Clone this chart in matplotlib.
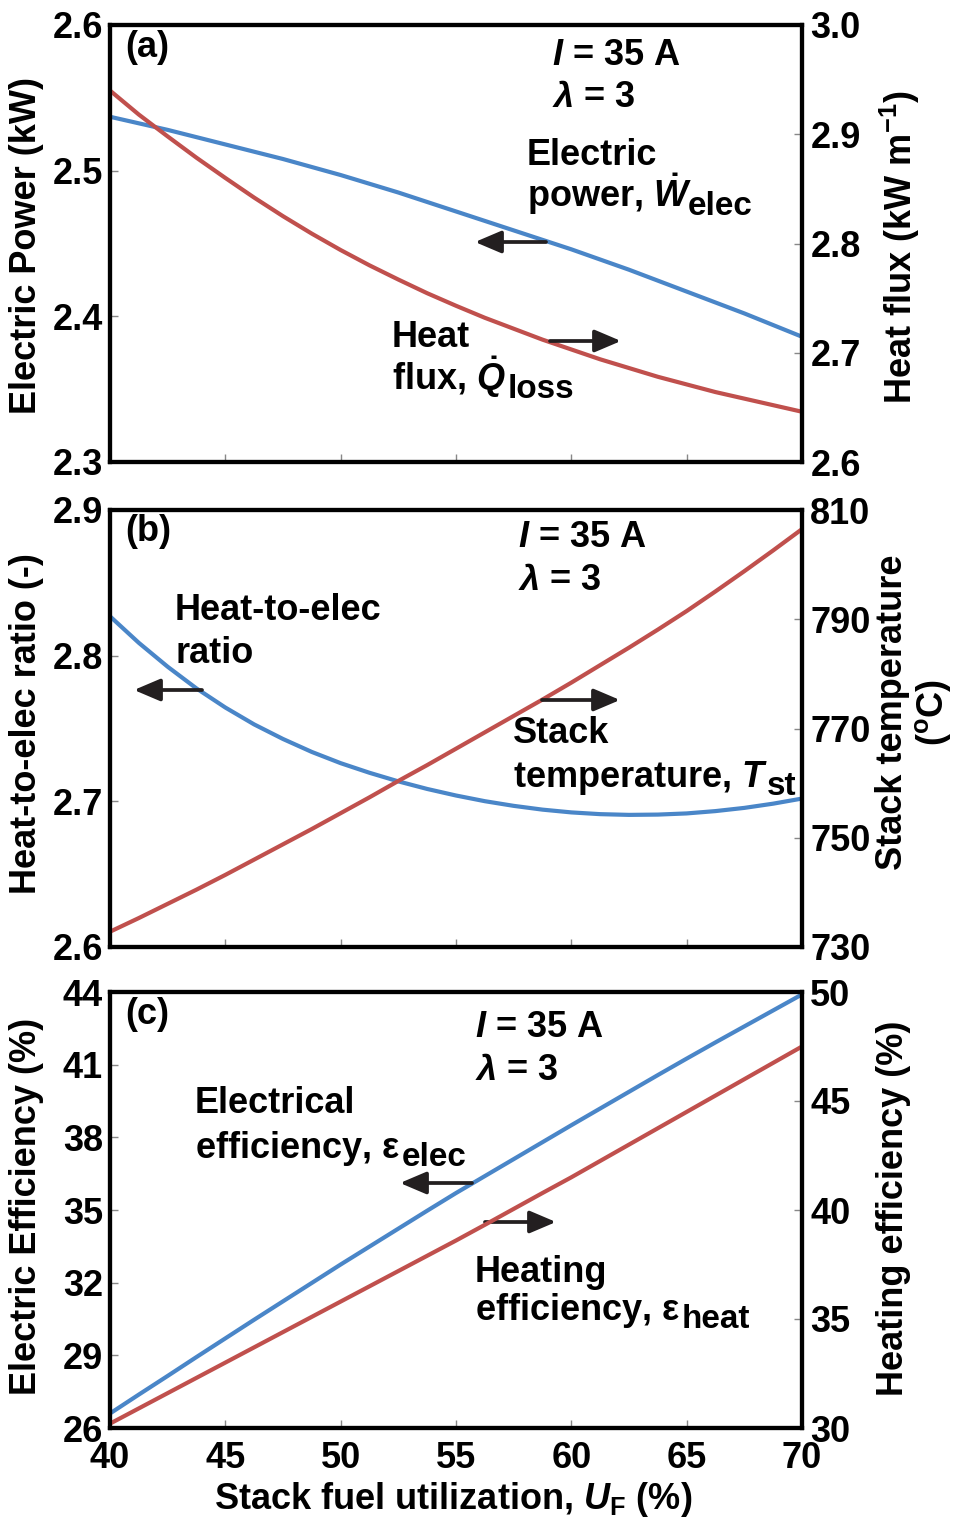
import matplotlib
matplotlib.use('Agg')
import matplotlib.pyplot as plt
from matplotlib.ticker import FormatStrFormatter

# ---------------- data ----------------
uf = [40, 41.25, 42.5, 43.75, 45, 46.25, 47.5, 48.75, 50, 51.25, 52.5, 53.75, 55,
      56.25, 57.5, 58.75, 60, 61.25, 62.5, 63.75, 65, 66.25, 67.5, 68.75, 70]
# panel (a)
power_kw = [2.537, 2.5325, 2.528, 2.523, 2.518, 2.513, 2.508, 2.5025, 2.497, 2.491,
            2.485, 2.4785, 2.472, 2.4655, 2.459, 2.4525, 2.446, 2.439, 2.432, 2.4245,
            2.417, 2.4095, 2.402, 2.394, 2.386]
heat_flux = [2.940, 2.918, 2.898, 2.8785, 2.860, 2.842, 2.825, 2.809, 2.794, 2.780,
             2.767, 2.7545, 2.743, 2.732, 2.722, 2.712, 2.703, 2.694, 2.686, 2.678,
             2.671, 2.664, 2.658, 2.652, 2.646]
# panel (b)
heat_elec_ratio = [2.8270, 2.8088, 2.7924, 2.7775, 2.7644, 2.7528, 2.7428, 2.7339,
                   2.7262, 2.7196, 2.7137, 2.7085, 2.7040, 2.7001, 2.6969, 2.6943,
                   2.6924, 2.6912, 2.6907, 2.6909, 2.6917, 2.6933, 2.6955, 2.6984,
                   2.7019]
stack_temp = [732.8, 735.3, 737.9, 740.5, 743.2, 746.0, 748.8, 751.6, 754.5, 757.4,
              760.4, 763.3, 766.3, 769.3, 772.3, 775.3, 778.4, 781.6, 784.8, 788.1,
              791.5, 795.1, 798.8, 802.6, 806.5]
# panel (c)
eff_elec = [26.6, 27.38, 28.15, 28.93, 29.7, 30.47, 31.23, 31.99, 32.75, 33.49, 34.23,
            34.97, 35.7, 36.4, 37.1, 37.8, 38.5, 39.19, 39.88, 40.57, 41.25, 41.92,
            42.58, 43.24, 43.9]
eff_heat = [30.2, 30.9, 31.6, 32.3, 33.0, 33.7, 34.4, 35.1, 35.8, 36.5, 37.2, 37.9,
            38.6, 39.32, 40.05, 40.78, 41.5, 42.25, 43.0, 43.75, 44.5, 45.25, 46.0,
            46.75, 47.5]

xticks = [40, 45, 50, 55, 60, 65, 70]
yticks_a_left = [2.3, 2.4, 2.5, 2.6]
yticks_a_right = [2.6, 2.7, 2.8, 2.9, 3.0]
yticks_b_left = [2.6, 2.7, 2.8, 2.9]
yticks_b_right = [730, 750, 770, 790, 810]
yticks_c_left = [26, 29, 32, 35, 38, 41, 44]
yticks_c_right = [30, 35, 40, 45, 50]

# ---------------- style ----------------
plt.rcParams.update({
    'font.family': ['Liberation Sans', 'DejaVu Sans'],
    'font.weight': 'bold',
    'mathtext.fontset': 'custom',
    'mathtext.rm': 'Liberation Sans:bold',
    'mathtext.it': 'Liberation Sans:italic:bold',
    'mathtext.bf': 'Liberation Sans:bold',
    'mathtext.sf': 'Liberation Sans:bold',
})

BLUE = '#4a86c8'
RED = '#c0504d'
ARROW = '#231f20'
FS = 26
LW = 3.0

W, H = 955, 1519
fig = plt.figure(figsize=(W / 100, H / 100), dpi=100)


def fx(px):
    return px / W


def fy(py):
    return 1 - py / H


L, R = 110, 802
panels = [(25, 462), (510, 947), (992, 1428)]


def make_axes(top, bot):
    return fig.add_axes([fx(L), fy(bot), (R - L) / W, (bot - top) / H])


def style(ax, ax2, show_xlabels):
    for a in (ax, ax2):
        for s in a.spines.values():
            s.set_linewidth(LW)
            s.set_color('black')
    ax.tick_params(axis='y', which='both', direction='in', length=6, width=1,
                   color='#888888', left=True, right=False, labelsize=FS, pad=5)
    ax.tick_params(axis='x', which='both', direction='in', length=6, width=1,
                   color='#888888', bottom=True, top=False, labelsize=FS, pad=9,
                   labelbottom=show_xlabels)
    ax2.tick_params(axis='y', which='both', direction='in', length=6, width=1,
                    color='#888888', left=False, right=True, labelsize=FS, pad=6)
    ax.set_xlim(40, 70)
    ax.set_xticks(xticks)
    for lab in ax.get_xticklabels() + ax.get_yticklabels() + ax2.get_yticklabels():
        lab.set_fontweight('bold')


axes = []
for (top, bot) in panels:
    ax = make_axes(top, bot)
    ax2 = ax.twinx()
    axes.append((ax, ax2))

# panel (a)
ax, ax2 = axes[0]
ax.plot(uf, power_kw, color=BLUE, lw=LW, solid_capstyle='butt')
ax2.plot(uf, heat_flux, color=RED, lw=LW, solid_capstyle='butt')
ax.set_ylim(2.3, 2.6)
ax.set_yticks(yticks_a_left)
ax2.set_ylim(2.6, 3.0)
ax2.set_yticks(yticks_a_right)
ax.yaxis.set_major_formatter(FormatStrFormatter('%.1f'))
ax2.yaxis.set_major_formatter(FormatStrFormatter('%.1f'))
style(ax, ax2, False)

# panel (b)
ax, ax2 = axes[1]
ax.plot(uf, heat_elec_ratio, color=BLUE, lw=LW, solid_capstyle='butt')
ax2.plot(uf, stack_temp, color=RED, lw=LW, solid_capstyle='butt')
ax.set_ylim(2.6, 2.9)
ax.set_yticks(yticks_b_left)
ax2.set_ylim(730, 810)
ax2.set_yticks(yticks_b_right)
ax.yaxis.set_major_formatter(FormatStrFormatter('%.1f'))
style(ax, ax2, False)

# panel (c)
ax, ax2 = axes[2]
ax.plot(uf, eff_elec, color=BLUE, lw=LW, solid_capstyle='butt')
ax2.plot(uf, eff_heat, color=RED, lw=LW, solid_capstyle='butt')
ax.set_ylim(26, 44)
ax.set_yticks(yticks_c_left)
ax2.set_ylim(30, 50)
ax2.set_yticks(yticks_c_right)
style(ax, ax2, True)

host = axes[2][0]


# ---------------- texts ----------------
def ftext(x, y, s, **kw):
    kw.setdefault('va', 'baseline')
    kw.setdefault('ha', 'left')
    return fig.text(fx(x), fy(y), s, fontsize=FS, fontweight='bold', **kw)


def subscript(txt, s, y, dx=1.0):
    host.annotate(s, xy=(1.0, fy(y)), xycoords=(txt, 'figure fraction'),
                  xytext=(dx, 0), textcoords='offset points',
                  va='baseline', ha='left', fontsize=FS * 0.92,
                  fontweight='bold', annotation_clip=False)


def arrow(x0, y0, x1, y1):
    host.annotate('', xy=(fx(x1), fy(y1)), xycoords='figure fraction',
                  xytext=(fx(x0), fy(y0)), textcoords='figure fraction',
                  arrowprops=dict(arrowstyle='-|>,head_length=0.8,head_width=0.34',
                                  lw=2.7, color=ARROW, mutation_scale=20,
                                  shrinkA=0, shrinkB=0),
                  annotation_clip=False)


# panel labels
ftext(125, 30, '(a)', va='top')
ftext(125, 514, '(b)', va='top')
ftext(125, 997, '(c)', va='top')

# panel (a) texts
ftext(552, 65, r'$I$ = 35 A')
ftext(552, 107, r'$\lambda$ = 3')
ftext(527, 165, 'Electric')
t = ftext(527, 207, r'power, $\dot{W}$')
subscript(t, 'elec', 215, dx=-3)
ftext(392, 347, 'Heat')
t = ftext(392, 390, r'flux, $\dot{Q}$')
subscript(t, 'loss', 398)
arrow(546, 242, 475, 242)
arrow(550, 341, 621, 341)

# panel (b) texts
ftext(518, 547, r'$I$ = 35 A')
ftext(518, 590, r'$\lambda$ = 3')
ftext(175, 620, 'Heat-to-elec')
ftext(175, 663, 'ratio')
ftext(513, 743, 'Stack')
t = ftext(513, 787, r'temperature, $T$')
subscript(t, 'st', 795, dx=-1)
arrow(202, 690, 134, 690)
arrow(542, 700, 620, 700)

# panel (c) texts
ftext(475, 1037, r'$I$ = 35 A')
ftext(475, 1080, r'$\lambda$ = 3')
ftext(195, 1113, 'Electrical')
t = ftext(195, 1158, r'efficiency, $\mathrm{\varepsilon}$')
subscript(t, 'elec', 1166)
ftext(475, 1282, 'Heating')
t = ftext(475, 1320, r'efficiency, $\mathrm{\varepsilon}$')
subscript(t, 'heat', 1328)
arrow(472, 1183, 400, 1183)
arrow(485, 1222, 556, 1222)

# axis labels
ftext(27, 246, 'Electric Power (kW)', rotation=90, ha='center', va='center')
ftext(27, 724, 'Heat-to-elec ratio (-)', rotation=90, ha='center', va='center')
ftext(27, 1206, 'Electric Efficiency (%)', rotation=90, ha='center', va='center')
ftext(900, 247, r'Heat flux (kW m$^{-1}$)', rotation=90, ha='center', va='center')
ftext(914, 712, 'Stack temperature\n($^{\\mathrm{o}}$C)', rotation=90, ha='center',
      va='center', multialignment='center', linespacing=1.1)
ftext(893, 1208, 'Heating efficiency (%)', rotation=90, ha='center', va='center')
ftext(453, 1509, r'Stack fuel utilization, $U_{\mathrm{F}}$ (%)', ha='center')

fig.savefig('out.png', dpi=100)
